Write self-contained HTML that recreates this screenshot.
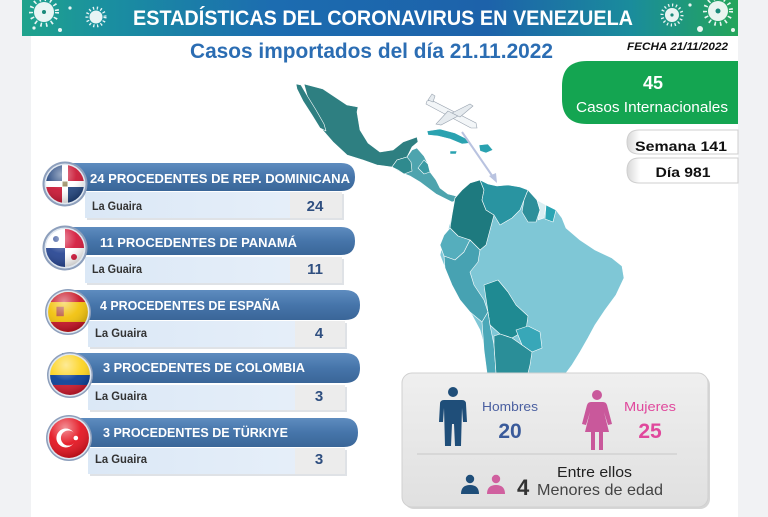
<!DOCTYPE html>
<html><head><meta charset="utf-8"><style>
html,body{margin:0;padding:0;background:#f1f2f4;}
svg{display:block;}
text{font-family:"Liberation Sans",sans-serif;}
</style></head><body>
<svg width="768" height="517" viewBox="0 0 768 517" xmlns="http://www.w3.org/2000/svg">
<defs>
<linearGradient id="ban" x1="0" x2="1" y1="0" y2="0">
<stop offset="0" stop-color="#1fa38c"/><stop offset="0.12" stop-color="#1a8fa0"/><stop offset="0.35" stop-color="#1c6cb0"/><stop offset="0.65" stop-color="#1d62aa"/><stop offset="0.85" stop-color="#1a8c9c"/><stop offset="1" stop-color="#24a55a"/>
</linearGradient>
<linearGradient id="hdr" x1="0" x2="0" y1="0" y2="1">
<stop offset="0" stop-color="#5e8cbf"/><stop offset="0.5" stop-color="#4675aa"/><stop offset="1" stop-color="#3a6698"/>
</linearGradient>
<linearGradient id="row" x1="0" x2="1" y1="0" y2="0">
<stop offset="0" stop-color="#dbe8f6"/><stop offset="1" stop-color="#e8f0fa"/>
</linearGradient>
<linearGradient id="gbox" x1="0" x2="0" y1="0" y2="1">
<stop offset="0" stop-color="#efefef"/><stop offset="1" stop-color="#e0e0e0"/>
</linearGradient>
<linearGradient id="pill" x1="0" x2="1" y1="0" y2="0">
<stop offset="0" stop-color="#d8d8d8"/><stop offset="0.12" stop-color="#ffffff"/><stop offset="1" stop-color="#ffffff"/>
</linearGradient>
<radialGradient id="gloss" cx="0.4" cy="0.25" r="0.8">
<stop offset="0" stop-color="#fff" stop-opacity="0.55"/><stop offset="0.5" stop-color="#fff" stop-opacity="0.1"/><stop offset="1" stop-color="#000" stop-opacity="0.25"/>
</radialGradient>
<clipPath id="fc"><circle cx="0" cy="0" r="19"/></clipPath>
</defs>

<rect x="0" y="0" width="768" height="517" fill="#f1f2f4"/>
<rect x="31" y="0" width="707" height="517" fill="#ffffff"/>

<!-- banner -->
<rect x="22" y="0" width="716" height="36" fill="url(#ban)"/>
<g fill="#fff" stroke="#fff" opacity="0.9">
<circle cx="44" cy="12" r="10" stroke="none"/>
<circle cx="44" cy="12" r="13" fill="none" stroke-width="4" stroke-dasharray="1.6 4"/>
<circle cx="96" cy="17" r="6.5" stroke="none"/>
<circle cx="96" cy="17" r="9" fill="none" stroke-width="3" stroke-dasharray="1.3 2.6"/>
<circle cx="60" cy="30" r="2" stroke="none"/><circle cx="34" cy="28" r="1.6" stroke="none"/><circle cx="70" cy="8" r="1.6" stroke="none"/>
<circle cx="672" cy="15" r="7" stroke="none"/>
<circle cx="672" cy="15" r="10" fill="none" stroke-width="3" stroke-dasharray="1.3 2.6"/>
<circle cx="718" cy="11" r="10" stroke="none"/>
<circle cx="718" cy="11" r="13" fill="none" stroke-width="4" stroke-dasharray="1.6 4"/>
<circle cx="700" cy="29" r="3" stroke="none"/><circle cx="733" cy="30" r="2" stroke="none"/><circle cx="690" cy="5" r="1.6" stroke="none"/>
</g>
<g fill="#1a8a7a"><circle cx="44" cy="12" r="2"/><circle cx="718" cy="11" r="2.5"/><circle cx="672" cy="15" r="1.6"/></g>
<text x="133" y="25" font-size="21" font-weight="bold" fill="#fff" textLength="500" lengthAdjust="spacingAndGlyphs">ESTADÍSTICAS DEL CORONAVIRUS EN VENEZUELA</text>

<text x="190" y="58" font-size="21" font-weight="bold" fill="#2b6db3" textLength="363" lengthAdjust="spacingAndGlyphs">Casos importados del día 21.11.2022</text>
<text x="627" y="50" font-size="11" font-weight="bold" font-style="italic" fill="#111" textLength="101" lengthAdjust="spacingAndGlyphs">FECHA 21/11/2022</text>

<!-- map -->
<g stroke="#ffffff" stroke-width="0.6" stroke-linejoin="round">
<path d="M304,84 L323,89 L338,99 L347,105 L358,107 L357,112 L360,130 L368,143 L380,152 L393,150 L403,142 L417,137 L418,142 L412,147 L407,157 L397,160 L392,167 L377,165 L363,160 L347,155 L333,142 L320,127 L312,110 L307,95 Z" fill="#2e7f81"/>
<path d="M296,84 L301,85 L308,97 L316,110 L324,124 L326,131 L320,128 L312,115 L303,101 L297,89 Z" fill="#2e7f81"/>
<path d="M392,167 L397,160 L407,157 L412,150 L417,148 L424,156 L428,164 L430,172 L436,180 L440,188 L448,194 L456,196 L458,200 L452,202 L444,198 L436,194 L428,188 L420,182 L410,176 L400,172 Z" fill="#4ea4ae"/>
<path d="M392,167 L397,160 L407,157 L411,162 L412,171 L404,174 L398,170 Z" fill="#2f8a8e"/>
<path d="M424,160 L428,164 L430,172 L424,174 L418,168 Z" fill="#3a9aa3"/>
<path d="M427,131 L440,129 L455,133 L465,138 L471,143 L462,144 L450,139 L438,136 L428,135 Z" fill="#2aa2b0"/>
<path d="M479,145 L488,144 L493,150 L486,153 L480,151 Z" fill="#2aa2b0"/>
<path d="M450,151 L457,151 L456,154 L450,154 Z" fill="#2aa2b0"/>
<path d="M455,198 L462,190 L470,183 L480,180 L488,184 L497,186 L508,185 L520,187 L530,192 L537,200 L546,205 L556,210 L562,218 L566,228 L580,240 L595,250 L612,258 L622,266 L624,278 L616,295 L605,310 L595,325 L588,338 L580,352 L572,365 L566,373 L490,373 L486,352 L480,330 L472,315 L460,300 L452,285 L445,268 L440,255 L443,242 L448,230 L452,215 Z" fill="#7fc7d6"/>
<path d="M455,198 L462,190 L470,183 L480,180 L484,190 L482,200 L486,210 L494,215 L490,230 L486,245 L480,250 L470,240 L458,236 L450,228 L452,215 Z" fill="#1e7a7f"/>
<path d="M480,180 L488,184 L497,186 L508,185 L520,187 L528,190 L524,200 L520,210 L512,218 L500,225 L494,215 L486,210 L482,200 L484,190 Z" fill="#2994a1"/>
<path d="M528,190 L537,200 L540,210 L536,222 L528,222 L522,212 L524,200 Z" fill="#2e8f9a"/>
<path d="M537,200 L546,205 L544,218 L538,220 L540,210 Z" fill="#d8eef2"/>
<path d="M546,205 L556,210 L553,222 L545,219 Z" fill="#2aa5b4"/>
<path d="M450,228 L458,236 L470,240 L464,252 L455,260 L444,256 L440,245 L444,235 Z" fill="#55aebd"/>
<path d="M444,256 L455,260 L464,252 L470,240 L480,250 L478,262 L470,272 L474,285 L484,300 L488,312 L482,322 L470,312 L460,300 L452,285 L445,268 Z" fill="#47a2b2"/>
<path d="M484,285 L498,280 L508,292 L516,305 L528,316 L526,330 L512,338 L500,334 L490,325 L488,312 Z" fill="#1f8a92"/>
<path d="M516,330 L528,326 L540,332 L542,348 L532,352 L522,345 Z" fill="#38a7b8"/>
<path d="M482,322 L488,312 L490,325 L494,345 L496,373 L487,373 L484,350 Z" fill="#4ba8b8"/>
<path d="M494,336 L500,334 L512,338 L522,345 L532,352 L530,365 L528,373 L496,373 L494,345 Z" fill="#2a8e98"/>
</g>
<!-- plane & arrow -->
<line x1="462" y1="132" x2="493" y2="177" stroke="#b9c3e0" stroke-width="2"/>
<polygon points="497,183 489,176 496,173" fill="#b9c3e0"/>
<g stroke="#9aa4b0" stroke-width="0.6">
<polygon points="427,101 431,100 476,123 477,128 471,128 426,104" fill="#f3f6f8"/>
<polygon points="448,111 436,124 441,125 458,116" fill="#e6ebef"/>
<polygon points="452,113 470,104 473,106 460,117" fill="#e6ebef"/>
<polygon points="428,100 432,94 435,96 433,102" fill="#e6ebef"/>
</g>

<!-- green box -->
<path d="M587,61 L738,61 L738,124 L587,124 Q562,124 562,99 L562,86 Q562,61 587,61 Z" fill="#14a551"/>
<text x="653" y="89" font-size="18" font-weight="bold" fill="#fff" text-anchor="middle">45</text>
<text x="576" y="112" font-size="15" fill="#fff" textLength="152" lengthAdjust="spacingAndGlyphs">Casos Internacionales</text>

<!-- semana / dia pills -->
<path d="M639,130 L738,130 L738,154 L639,154 Q627,154 627,142 Q627,130 639,130 Z" fill="url(#pill)" stroke="#cfcfcf" stroke-width="1"/>
<text x="681" y="151" font-size="14" font-weight="bold" fill="#111" text-anchor="middle" textLength="92" lengthAdjust="spacingAndGlyphs">Semana 141</text>
<path d="M639,158 L738,158 L738,183 L639,183 Q627,183 627,170.5 Q627,158 639,158 Z" fill="url(#pill)" stroke="#cfcfcf" stroke-width="1"/>
<text x="683" y="177" font-size="14" font-weight="bold" fill="#111" text-anchor="middle" textLength="55" lengthAdjust="spacingAndGlyphs">Día 981</text>

<!-- list items -->
<!-- item 1 -->
<rect x="87" y="194" width="257" height="26" fill="#c9ced6" opacity="0.6"/>
<rect x="85" y="192" width="257" height="26" fill="url(#row)"/>
<rect x="290" y="192" width="52" height="26" fill="#ececec"/>
<path d="M60,163 L341,163 Q355,163 355,177 Q355,191 341,191 L60,191 Z" fill="url(#hdr)"/>
<text x="90" y="183" font-size="13" font-weight="bold" fill="#fff" textLength="260" lengthAdjust="spacingAndGlyphs">24 PROCEDENTES DE REP. DOMINICANA</text>
<text x="92" y="210" font-size="12" font-weight="bold" fill="#333" textLength="50" lengthAdjust="spacingAndGlyphs">La Guaira</text>
<text x="315" y="211" font-size="15" font-weight="bold" fill="#2f4f80" text-anchor="middle">24</text>
<!-- item 2 -->
<rect x="87" y="259" width="257" height="26" fill="#c9ced6" opacity="0.6"/>
<rect x="85" y="257" width="257" height="26" fill="url(#row)"/>
<rect x="290" y="257" width="52" height="26" fill="#ececec"/>
<path d="M60,227 L341,227 Q355,227 355,241 Q355,255 341,255 L60,255 Z" fill="url(#hdr)"/>
<text x="100" y="247" font-size="13" font-weight="bold" fill="#fff" textLength="197" lengthAdjust="spacingAndGlyphs">11 PROCEDENTES DE PANAMÁ</text>
<text x="92" y="273" font-size="12" font-weight="bold" fill="#333" textLength="50" lengthAdjust="spacingAndGlyphs">La Guaira</text>
<text x="315" y="274" font-size="15" font-weight="bold" fill="#2f4f80" text-anchor="middle">11</text>
<!-- item 3 -->
<rect x="90" y="323" width="257" height="26" fill="#c9ced6" opacity="0.6"/>
<rect x="88" y="321" width="257" height="26" fill="url(#row)"/>
<rect x="295" y="321" width="50" height="26" fill="#ececec"/>
<path d="M62,290 L345,290 Q360,290 360,305 Q360,320 345,320 L62,320 Z" fill="url(#hdr)"/>
<text x="100" y="310" font-size="13" font-weight="bold" fill="#fff" textLength="180" lengthAdjust="spacingAndGlyphs">4 PROCEDENTES DE ESPAÑA</text>
<text x="95" y="337" font-size="12" font-weight="bold" fill="#333" textLength="52" lengthAdjust="spacingAndGlyphs">La Guaira</text>
<text x="319" y="338" font-size="15" font-weight="bold" fill="#2f4f80" text-anchor="middle">4</text>
<!-- item 4 -->
<rect x="90" y="387" width="257" height="25" fill="#c9ced6" opacity="0.6"/>
<rect x="88" y="385" width="257" height="25" fill="url(#row)"/>
<rect x="295" y="385" width="50" height="25" fill="#ececec"/>
<path d="M62,353 L345,353 Q360,353 360,368 Q360,383 345,383 L62,383 Z" fill="url(#hdr)"/>
<text x="103" y="372" font-size="13" font-weight="bold" fill="#fff" textLength="202" lengthAdjust="spacingAndGlyphs">3 PROCEDENTES DE COLOMBIA</text>
<text x="95" y="400" font-size="12" font-weight="bold" fill="#333" textLength="52" lengthAdjust="spacingAndGlyphs">La Guaira</text>
<text x="319" y="401" font-size="15" font-weight="bold" fill="#2f4f80" text-anchor="middle">3</text>
<!-- item 5 -->
<rect x="90" y="450" width="257" height="26" fill="#c9ced6" opacity="0.6"/>
<rect x="88" y="448" width="257" height="26" fill="url(#row)"/>
<rect x="295" y="448" width="50" height="26" fill="#ececec"/>
<path d="M62,418 L344,418 Q358,418 358,432.5 Q358,447 344,447 L62,447 Z" fill="url(#hdr)"/>
<text x="103" y="437" font-size="13" font-weight="bold" fill="#fff" textLength="185" lengthAdjust="spacingAndGlyphs">3 PROCEDENTES DE TÜRKIYE</text>
<text x="95" y="463" font-size="12" font-weight="bold" fill="#333" textLength="52" lengthAdjust="spacingAndGlyphs">La Guaira</text>
<text x="319" y="464" font-size="15" font-weight="bold" fill="#2f4f80" text-anchor="middle">3</text>

<!-- flags -->
<g transform="translate(65,184)">
<circle r="22.5" fill="#8d9fbc"/><circle r="20.5" fill="#dfe6ef"/>
<g clip-path="url(#fc)">
<rect x="-19" y="-19" width="38" height="38" fill="#fff"/>
<rect x="-19" y="-19" width="16" height="16" fill="#1b3f7a"/><rect x="3" y="-19" width="16" height="16" fill="#c8102e"/>
<rect x="-19" y="3" width="16" height="16" fill="#c8102e"/><rect x="3" y="3" width="16" height="16" fill="#1b3f7a"/>
<rect x="-2.5" y="-2.5" width="5" height="5" fill="#8a7a4a"/>
<circle r="19" fill="url(#gloss)"/>
</g></g>
<g transform="translate(65,248)">
<circle r="22.5" fill="#8d9fbc"/><circle r="20.5" fill="#dfe6ef"/>
<g clip-path="url(#fc)">
<rect x="-19" y="-19" width="38" height="38" fill="#fff"/>
<rect x="0" y="-19" width="19" height="19" fill="#d21034"/><rect x="-19" y="0" width="19" height="19" fill="#1f3f8f"/>
<circle cx="-9" cy="-9" r="3" fill="#1f3f8f"/><circle cx="9" cy="9" r="3" fill="#d21034"/>
<circle r="19" fill="url(#gloss)"/>
</g></g>
<g transform="translate(68,312)">
<circle r="23" fill="#8d9fbc"/><circle r="21.5" fill="#dfe6ef"/>
<g clip-path="url(#fc)" transform="scale(1.05)">
<rect x="-19" y="-19" width="38" height="38" fill="#f1bf00"/>
<rect x="-19" y="-19" width="38" height="9.5" fill="#c60b1e"/><rect x="-19" y="9.5" width="38" height="9.5" fill="#c60b1e"/>
<rect x="-11" y="-5" width="7" height="9" fill="#b5503a"/>
<circle r="19" fill="url(#gloss)"/>
</g></g>
<g transform="translate(70,375)">
<circle r="23" fill="#8d9fbc"/><circle r="21.5" fill="#dfe6ef"/>
<g clip-path="url(#fc)" transform="scale(1.05)">
<rect x="-19" y="-19" width="38" height="19" fill="#fcd116"/>
<rect x="-19" y="0" width="38" height="9.5" fill="#003893"/><rect x="-19" y="9.5" width="38" height="9.5" fill="#ce1126"/>
<circle r="19" fill="url(#gloss)"/>
</g></g>
<g transform="translate(69,438)">
<circle r="23" fill="#8d9fbc"/><circle r="21.5" fill="#dfe6ef"/>
<g clip-path="url(#fc)" transform="scale(1.05)">
<rect x="-19" y="-19" width="38" height="38" fill="#e30a17"/>
<circle cx="-3" cy="0" r="9" fill="#fff"/><circle cx="-0.5" cy="0" r="7.2" fill="#e30a17"/>
<polygon points="9,0 5.2,1.2 5.2,-1.2" fill="#fff"/><circle cx="6.5" cy="0" r="2.2" fill="#fff"/>
<circle r="19" fill="url(#gloss)"/>
</g></g>

<!-- gender box -->
<rect x="404" y="375" width="306" height="134" rx="10" fill="#c4c4c4" opacity="0.7"/>
<rect x="402" y="373" width="306" height="134" rx="10" fill="url(#gbox)" stroke="#d0d0d0"/>
<!-- man -->
<g fill="#1f4e79">
<circle cx="453" cy="392" r="5"/>
<path d="M444,400 L462,400 Q466,400 466,404 L467,422 L463,422 L462,408 L461,446 L455,446 L454,424 L452,424 L451,446 L445,446 L444,408 L443,422 L439,422 L440,404 Q440,400 444,400 Z"/>
</g>
<!-- woman -->
<g fill="#c9589b">
<circle cx="597" cy="395" r="5"/>
<path d="M591,402 L603,402 Q606,402 607,405 L612,424 L608,425 L604,412 L609,432 L603,432 L603,450 L599,450 L599,432 L595,432 L595,450 L591,450 L591,432 L585,432 L590,412 L586,425 L582,424 L587,405 Q588,402 591,402 Z"/>
</g>
<text x="482" y="411" font-size="13" fill="#4a5fa0" textLength="56" lengthAdjust="spacingAndGlyphs">Hombres</text>
<text x="510" y="438" font-size="21" font-weight="bold" fill="#3a5a9a" text-anchor="middle">20</text>
<text x="624" y="411" font-size="13" fill="#e0489c" textLength="52" lengthAdjust="spacingAndGlyphs">Mujeres</text>
<text x="650" y="438" font-size="21" font-weight="bold" fill="#e0489c" text-anchor="middle">25</text>
<line x1="417" y1="454" x2="677" y2="454" stroke="#c8c8c8" stroke-width="1"/>
<g fill="#1f4e79"><circle cx="470" cy="479" r="4.2"/><path d="M461,494 Q461,485 470,485 Q479,485 479,494 Z"/></g>
<g fill="#d0609f"><circle cx="496" cy="479" r="4.2"/><path d="M487,494 Q487,485 496,485 Q505,485 505,494 Z"/></g>
<text x="517" y="495" font-size="22" font-weight="bold" fill="#333">4</text>
<text x="557" y="477" font-size="15" fill="#222" textLength="75" lengthAdjust="spacingAndGlyphs">Entre ellos</text>
<text x="537" y="495" font-size="16" fill="#444" textLength="126" lengthAdjust="spacingAndGlyphs">Menores de edad</text>
</svg>
</body></html>
